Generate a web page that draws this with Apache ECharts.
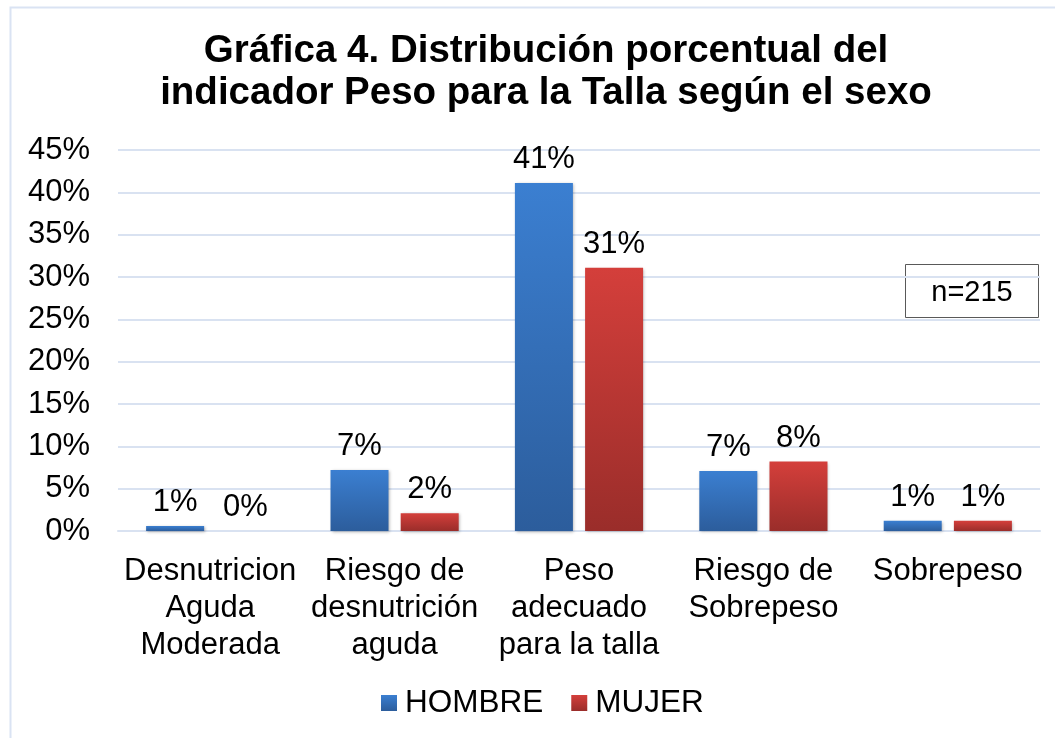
<!DOCTYPE html>
<html>
<head>
<meta charset="utf-8">
<script src="https://cdn.jsdelivr.net/npm/echarts@6/dist/echarts.min.js"></script>
<style>
html,body{margin:0;padding:0;background:#fff;}
#chart{width:1055px;height:738px;}
</style>
</head>
<body>
<div id="chart"></div>
<script>
var categories = ['Desnutricion\nAguda\nModerada', 'Riesgo de\ndesnutrición\naguda', 'Peso\nadecuado\npara la talla', 'Riesgo de\nSobrepeso', 'Sobrepeso'];
var hombre = [0.6, 7.2, 41.1, 7.1, 1.2];
var mujer = [0, 2.1, 31.1, 8.2, 1.2];
var yTicks = [0, 5, 10, 15, 20, 25, 30, 35, 40, 45];
var sampleNote = 'n=215';

var FONT = '"Liberation Sans", Arial, sans-serif';
var chart = echarts.init(document.getElementById('chart'), null, {renderer: 'canvas'});

function grad(top, bottom) {
  return new echarts.graphic.LinearGradient(0, 0, 0, 1, [
    {offset: 0, color: top}, {offset: 1, color: bottom}
  ]);
}
var blueGrad = grad('#3b7fd1', '#2c5d9c');
var redGrad = grad('#d43f3b', '#9a2d2a');

var barLabel = {
  show: true,
  position: 'top',
  distance: 8,
  fontFamily: FONT,
  fontSize: 31,
  color: '#000',
  formatter: function (p) { return Math.round(p.value) + '%'; }
};

chart.setOption({
  animation: false,
  backgroundColor: '#fff',
  title: {
    text: 'Gráfica 4. Distribución porcentual del\nindicador Peso para la Talla según el sexo',
    left: 541,
    top: 25,
    textAlign: 'center',
    textStyle: {fontFamily: FONT, fontSize: 38.5, fontWeight: 'bold', color: '#000', lineHeight: 42}
  },
  grid: {left: 118, right: 15, top: 150, bottom: 207, containLabel: false},
  legend: {
    data: ['HOMBRE', 'MUJER'],
    bottom: 14,
    left: 376,
    itemWidth: 16,
    itemHeight: 16,
    itemGap: 28,
    icon: 'rect',
    textStyle: {fontFamily: FONT, fontSize: 31.5, color: '#000', padding: [0, 0, 0, 3]}
  },
  xAxis: {
    type: 'category',
    data: categories,
    axisLine: {lineStyle: {color: '#d9e2f1', width: 2}},
    axisTick: {show: false},
    axisLabel: {
      interval: 0,
      margin: 22,
      fontFamily: FONT,
      fontSize: 31,
      color: '#000',
      lineHeight: 37
    }
  },
  yAxis: {
    type: 'value',
    min: yTicks[0],
    max: yTicks[yTicks.length - 1],
    interval: 5,
    axisLine: {show: false},
    axisTick: {show: false},
    splitLine: {lineStyle: {color: '#d9e2f1', width: 2}},
    axisLabel: {
      margin: 28,
      fontFamily: FONT,
      fontSize: 31,
      color: '#000',
      formatter: '{value}%'
    }
  },
  series: [
    {
      name: 'HOMBRE',
      type: 'bar',
      data: hombre,
      barWidth: 58,
      barGap: '21%',
      itemStyle: {color: blueGrad, shadowColor: 'rgba(0,0,0,0.3)', shadowBlur: 3, shadowOffsetX: 1, shadowOffsetY: 1},
      label: barLabel
    },
    {
      name: 'MUJER',
      type: 'bar',
      data: mujer,
      barWidth: 58,
      itemStyle: {color: redGrad, shadowColor: 'rgba(0,0,0,0.3)', shadowBlur: 3, shadowOffsetX: 1, shadowOffsetY: 1},
      label: barLabel
    }
  ],
  graphic: [
    {
      type: 'rect',
      left: 8, top: 5, z: -1,
      shape: {width: 1080, height: 760},
      style: {fill: 'none', stroke: '#dae3f3', lineWidth: 2}
    },
    {
      type: 'group',
      left: 905, top: 264,
      children: [
        {type: 'rect', shape: {width: 133, height: 53}, style: {fill: '#fff', stroke: '#595959', lineWidth: 1}},
        {type: 'text', x: 66.5, y: 28, style: {text: sampleNote, fontFamily: FONT, fontSize: 29, fill: '#000', align: 'center', verticalAlign: 'middle'}}
      ]
    }
  ]
});
</script>
</body>
</html>
